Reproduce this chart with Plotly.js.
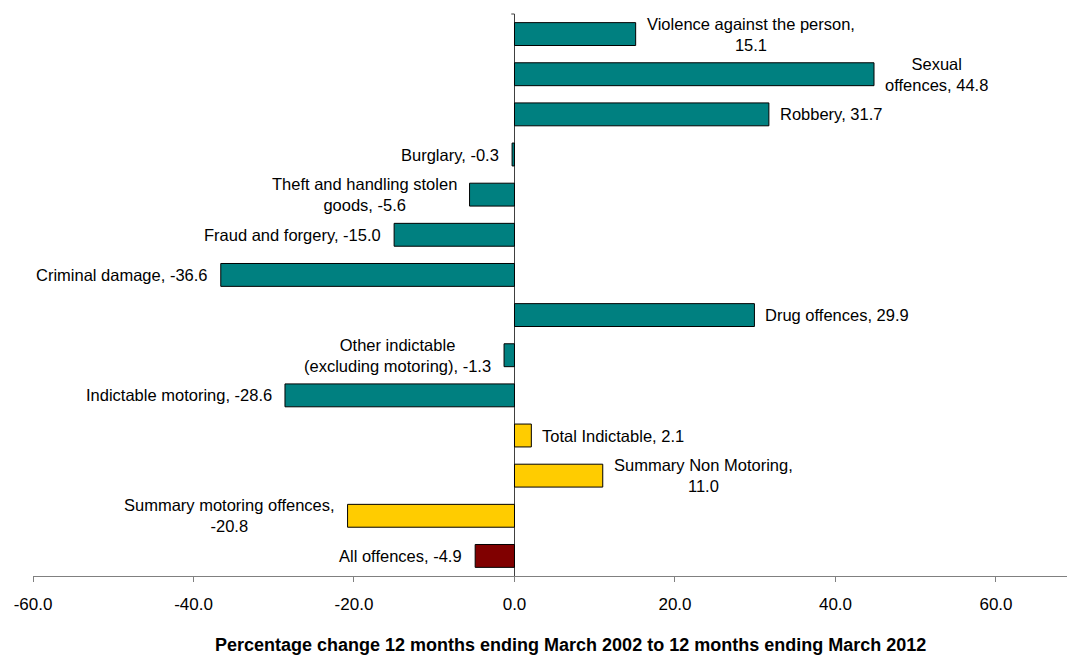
<!DOCTYPE html>
<html>
<head>
<meta charset="utf-8">
<script src="https://cdn.plot.ly/plotly-3.0.1.min.js"></script>
<style>
  html, body { margin: 0; padding: 0; background: #ffffff; }
  #chart { width: 1067px; height: 656px; }
</style>
</head>
<body>
<div id="chart"></div>
<script>
// ---- Data ----
var categories = [
  "Violence against the person",
  "Sexual offences",
  "Robbery",
  "Burglary",
  "Theft and handling stolen goods",
  "Fraud and forgery",
  "Criminal damage",
  "Drug offences",
  "Other indictable (excluding motoring)",
  "Indictable motoring",
  "Total Indictable",
  "Summary Non Motoring",
  "Summary motoring offences",
  "All offences"
];
var values = [15.1, 44.8, 31.7, -0.3, -5.6, -15.0, -36.6, 29.9, -1.3, -28.6, 2.1, 11.0, -20.8, -4.9];
var groups = ["indictable", "indictable", "indictable", "indictable", "indictable", "indictable", "indictable",
              "indictable", "indictable", "indictable", "summary", "summary", "summary", "all"];
var labelNames = [
  "Violence against the person,<br>",
  "Sexual<br>offences, ",
  "Robbery, ",
  "Burglary, ",
  "Theft and handling stolen<br>goods, ",
  "Fraud and forgery, ",
  "Criminal damage, ",
  "Drug offences, ",
  "Other indictable<br>(excluding motoring), ",
  "Indictable motoring, ",
  "Total Indictable, ",
  "Summary Non Motoring,<br>",
  "Summary motoring offences,<br>",
  "All offences, "
];
var xTickValues = [-60, -40, -20, 0, 20, 40, 60];
var xTitle = "Percentage change 12 months ending March 2002 to 12 months ending March 2012";

// ---- Styling ----
var groupColors = { indictable: "#008080", summary: "#FFCC00", all: "#800000" };
var FONT = "Liberation Sans, Arial, Helvetica, sans-serif";

var trace = {
  type: "bar",
  orientation: "h",
  x: values,
  y: categories,
  width: 0.57,
  marker: {
    color: groups.map(function (g) { return groupColors[g]; }),
    line: { color: "#000000", width: 1 }
  },
  hoverinfo: "x+y"
};

var annotations = categories.map(function (c, i) {
  var v = values[i];
  var pos = v >= 0;
  return {
    x: v,
    y: c,
    xref: "x",
    yref: "y",
    text: labelNames[i] + v.toFixed(1),
    showarrow: false,
    xanchor: pos ? "left" : "right",
    yanchor: "middle",
    align: "center",
    xshift: pos ? 9 : -11,
    font: { family: FONT, size: 16.5, color: "#000000" }
  };
});

// axis title (drawn as an annotation so it can sit slightly right of centre, as in the original)
annotations.push({
  xref: "paper",
  yref: "paper",
  x: 0.52,
  y: 0,
  yshift: -69,
  xanchor: "center",
  yanchor: "middle",
  showarrow: false,
  text: "<b>" + xTitle + "</b>",
  font: { family: FONT, size: 18, color: "#000000" }
});

var layout = {
  width: 1067,
  height: 656,
  margin: { l: 33, r: 0, t: 14, b: 80 },
  paper_bgcolor: "#ffffff",
  plot_bgcolor: "#ffffff",
  showlegend: false,
  font: { family: FONT, size: 16.5, color: "#000000" },
  xaxis: {
    range: [-60, 68.85],
    tickvals: xTickValues,
    ticktext: xTickValues.map(function (t) { return t.toFixed(1); }),
    ticks: "outside",
    ticklen: 5,
    tickcolor: "#808080",
    ticklabelstandoff: 8,
    showgrid: false,
    showline: true,
    linecolor: "#808080",
    linewidth: 1,
    zeroline: true,
    zerolinecolor: "#404040",
    zerolinewidth: 1,
    tickfont: { family: FONT, size: 17, color: "#000000" },
    fixedrange: true
  },
  yaxis: {
    type: "category",
    categoryorder: "array",
    categoryarray: categories,
    range: [13.5, -0.5],
    showticklabels: false,
    showgrid: false,
    ticks: "",
    showline: false,
    zeroline: false,
    fixedrange: true
  },
  shapes: [
    { type: "line", xref: "x", yref: "paper", x0: -0.4, x1: 0, y0: 1, y1: 1,
      line: { color: "#404040", width: 1 } }
  ],
  annotations: annotations,
  bargap: 0.43
};

Plotly.newPlot("chart", [trace], layout, { displayModeBar: false, staticPlot: true });
</script>
</body>
</html>
